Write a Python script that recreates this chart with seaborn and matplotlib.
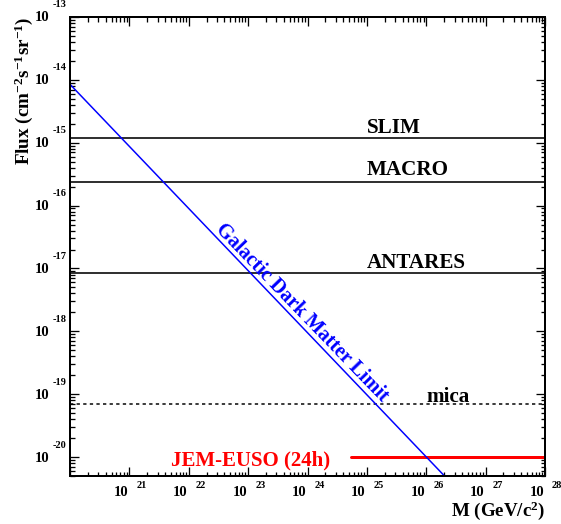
import numpy as np
import pandas as pd
import matplotlib
matplotlib.use("Agg")
import matplotlib.pyplot as plt
import matplotlib.transforms as mtransforms
from matplotlib.ticker import LogLocator, NullFormatter
import seaborn as sns

# ---------------- data ----------------
experiments = ["SLIM", "MACRO", "ANTARES", "mica"]
exp_flux = [1.17e-15, 2.4e-16, 8.4e-18, 6.9e-20]
mass_range = [1e20, 1e28]

jem_mass = [5.5e24, 1e28]
jem_flux = [1e-20, 1e-20]

gal_mass = [1e20, 3e26]
gal_flux = [8.5e-15, 3.4e-21]

x_exponents = [21, 22, 23, 24, 25, 26, 27, 28]
y_exponents = [-20, -19, -18, -17, -16, -15, -14, -13]

# ---------------- style ----------------
sns.set_theme(style="ticks")
plt.rcParams["font.family"] = ["Liberation Serif", "DejaVu Serif"]
plt.rcParams["font.weight"] = "bold"
plt.rcParams["text.color"] = "black"
plt.rcParams["mathtext.fontset"] = "custom"
plt.rcParams["mathtext.rm"] = "Liberation Serif:bold"
plt.rcParams["mathtext.it"] = "Liberation Serif:bold"
plt.rcParams["mathtext.bf"] = "Liberation Serif:bold"

W, H = 561, 524
fig = plt.figure(figsize=(W / 100, H / 100), dpi=100)
ax = fig.add_axes([70 / W, 1 - 476 / H, (545 - 70) / W, (476 - 17) / H])

px = 0.72  # points per pixel

# horizontal experiment limits
for name, f in zip(experiments, exp_flux):
    df = pd.DataFrame({"M": mass_range, "F": [f, f]})
    if name == "mica":
        sns.lineplot(data=df, x="M", y="F", ax=ax, color="black", lw=1.5 * px,
                     linestyle=(0, (2.2, 2.2)))
    else:
        sns.lineplot(data=df, x="M", y="F", ax=ax, color="black", lw=1.6 * px)

# JEM-EUSO
sns.lineplot(data=pd.DataFrame({"M": jem_mass, "F": jem_flux}), x="M", y="F",
             ax=ax, color="#ff0000", lw=3 * px)

# Galactic dark matter limit
sns.lineplot(data=pd.DataFrame({"M": gal_mass, "F": gal_flux}), x="M", y="F",
             ax=ax, color="#0000ff", lw=1.5 * px)

ax.set_xscale("log")
ax.set_yscale("log")
ax.set_xlim(1e20, 1e28)
ax.set_ylim(5e-21, 1e-13)
ax.set_xlabel("")
ax.set_ylabel("")

for s in ax.spines.values():
    s.set_linewidth(2 * px)
    s.set_color("black")

ax.xaxis.set_major_locator(LogLocator(base=10, numticks=20))
ax.yaxis.set_major_locator(LogLocator(base=10, numticks=20))
ax.xaxis.set_minor_locator(LogLocator(base=10, subs=np.arange(2, 10), numticks=200))
ax.yaxis.set_minor_locator(LogLocator(base=10, subs=np.arange(2, 10), numticks=200))
ax.xaxis.set_minor_formatter(NullFormatter())
ax.yaxis.set_minor_formatter(NullFormatter())
ax.tick_params(which="both", direction="in", top=True, right=True,
               labelbottom=False, labelleft=False, color="black", width=1.3 * px)
ax.tick_params(which="major", length=9 * px)
ax.tick_params(which="minor", length=4.5 * px)

# tick labels (ROOT style: "10" with raised exponent)
tfs = 10.5
efs = 7.5
xt = ax.get_xaxis_transform()
for e in x_exponents:
    tr = mtransforms.offset_copy(xt, fig=fig, x=-1, y=-17, units="dots")
    ax.text(10.0 ** e, 0, "10", transform=tr, ha="right", va="center",
            fontsize=tfs, fontweight="bold", clip_on=False)
    tr2 = mtransforms.offset_copy(xt, fig=fig, x=7, y=-9, units="dots")
    ax.text(10.0 ** e, 0, str(e), transform=tr2, ha="left", va="center",
            fontsize=efs, fontweight="bold", clip_on=False)

yt = ax.get_yaxis_transform()
for e in y_exponents:
    tr = mtransforms.offset_copy(yt, fig=fig, x=-21, y=-1, units="dots")
    ax.text(0, 10.0 ** e, "10", transform=tr, ha="right", va="center",
            fontsize=tfs, fontweight="bold", clip_on=False)
    tr2 = mtransforms.offset_copy(yt, fig=fig, x=-17, y=12, units="dots")
    ax.text(0, 10.0 ** e, str(e), transform=tr2, ha="left", va="center",
            fontsize=efs, fontweight="bold", clip_on=False)

# axis titles
fig.text(24 / W, 1 - 17 / H, r"Flux (cm$^{-2}$s$^{-1}$sr$^{-1}$)", rotation=90,
         ha="center", va="top", fontsize=13.8, fontweight="bold")
fig.text(545 / W, 1 - 511 / H, r"M (GeV/c$^{2}$)", ha="right", va="center",
         fontsize=13.7, fontweight="bold")

# line labels
lab_fs = 15.2
ax.text(1e25, 1.45e-15, "SLIM", ha="left", va="baseline", fontsize=lab_fs, fontweight="bold")
ax.text(1e25, 3.1e-16, "MACRO", ha="left", va="baseline", fontsize=lab_fs, fontweight="bold")
ax.text(1e25, 1.0e-17, "ANTARES", ha="left", va="baseline", fontsize=lab_fs, fontweight="bold")
ax.text(1e26, 7.6e-20, "mica", ha="left", va="baseline", fontsize=lab_fs, fontweight="bold")
ax.text(5.1e21, 7.4e-21, "JEM-EUSO (24h)", ha="left", va="baseline", fontsize=15,
        fontweight="bold", color="#ff0000")
ax.text(10 ** 23.91, 10 ** -17.71, "Galactic Dark Matter Limit", ha="center", va="center",
        rotation=-46, rotation_mode="anchor", fontsize=14.5, fontweight="bold",
        color="#0000ff")

fig.savefig("out.png", dpi=100)
